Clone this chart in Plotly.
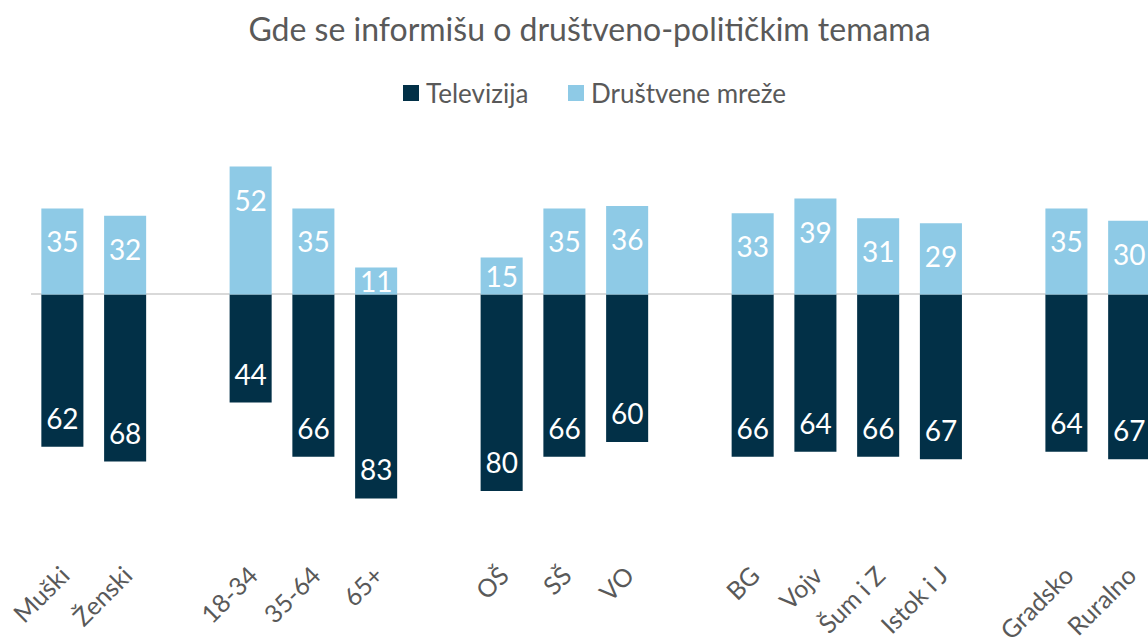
import plotly.graph_objects as go

# Survey groups and their categories
groups = [
    ["Muški", "Ženski"],
    ["18-34", "35-64", "65+"],
    ["OŠ", "SŠ", "VO"],
    ["BG", "Vojv", "Šum i Z", "Istok i J"],
    ["Gradsko", "Ruralno"],
]

# Shares (%) per category, in the same order as the groups above
televizija = [62, 68, 44, 66, 83, 80, 66, 60, 66, 64, 66, 67, 64, 67]
drustvene_mreze = [35, 32, 52, 35, 11, 15, 35, 36, 33, 39, 31, 29, 35, 30]

series_names = ["Televizija", "Društvene mreže"]

TV_COLOR = "#023047"
SM_COLOR = "#8ecae6"
TEXT_GREY = "#595959"
FONT = "Lato"

# Positions: one empty slot between groups
categories, xpos = [], []
slot = 0
for g in groups:
    for name in g:
        categories.append(name)
        xpos.append(slot)
        slot += 1
    slot += 1

# Plot geometry
W, H = 1148, 644
M_L, M_R, M_T, M_B = 31, 0, 142, 89
Y_RANGE = [-106, 62]
X_RANGE = [-0.5, 17.3]
PLOT_W = W - M_L - M_R
PLOT_H = H - M_T - M_B
px_per_unit = PLOT_H / (Y_RANGE[1] - Y_RANGE[0])
TEXT_NUDGE = 4 / px_per_unit  # text glyphs render slightly high


def label_pos(v):
    # labels sit a fixed distance inside the bar end, or mid-bar for short bars
    inset = (33 if v > 0 else 29) / px_per_unit
    off = min(inset, abs(v) / 2)
    pos = v - off if v > 0 else v + off
    return pos - TEXT_NUDGE


def px_to_paper(x_px, y_px):
    return (x_px - M_L) / PLOT_W, (H - M_B - y_px) / PLOT_H


tv_neg = [-v for v in televizija]

fig = go.Figure()
fig.add_trace(go.Bar(
    x=xpos, y=tv_neg, name=series_names[0], width=0.67,
    marker=dict(color=TV_COLOR, line=dict(width=0)),
    hoverinfo="skip", showlegend=False,
))
fig.add_trace(go.Bar(
    x=xpos, y=drustvene_mreze, name=series_names[1], width=0.67,
    marker=dict(color=SM_COLOR, line=dict(width=0)),
    hoverinfo="skip", showlegend=False,
))

# Value labels inside the bars
for vals, shown in ((tv_neg, televizija), (drustvene_mreze, drustvene_mreze)):
    fig.add_trace(go.Scatter(
        x=xpos, y=[label_pos(v) for v in vals], mode="text",
        text=[str(v) for v in shown], textposition="middle center",
        textfont=dict(family=FONT, size=28, color="white"),
        showlegend=False, hoverinfo="skip", cliponaxis=True,
    ))

# Legend: colour squares with series names, centred under the title
legend_items = [(403, TV_COLOR, series_names[0]), (568, SM_COLOR, series_names[1])]
shapes, annotations = [], []
for x_px, color, label in legend_items:
    x0, y0 = px_to_paper(x_px, 101)
    x1, y1 = px_to_paper(x_px + 16, 85)
    shapes.append(dict(type="rect", xref="paper", yref="paper",
                       x0=x0, x1=x1, y0=y0, y1=y1,
                       fillcolor=color, line=dict(width=0)))
    ax, ay = px_to_paper(x_px + 21, 93)
    annotations.append(dict(xref="paper", yref="paper", x=ax, y=ay,
                            xanchor="left", yanchor="middle", showarrow=False,
                            text=label,
                            font=dict(family=FONT, size=26, color=TEXT_GREY)))

fig.update_layout(
    width=W, height=H,
    margin=dict(l=M_L, r=M_R, t=M_T, b=M_B, autoexpand=False),
    barmode="relative",
    paper_bgcolor="white", plot_bgcolor="white",
    font=dict(family=FONT, color=TEXT_GREY),
    title=dict(
        text="Gde se informišu o društveno-političkim temama",
        x=0.5, xref="paper", xanchor="center",
        y=1 - 30 / H, yref="container", yanchor="middle",
        font=dict(family=FONT, size=32, color=TEXT_GREY),
    ),
    shapes=shapes,
    annotations=annotations,
    xaxis=dict(
        range=X_RANGE, tickmode="array", tickvals=xpos, ticktext=categories,
        tickangle=-45, tickfont=dict(family=FONT, size=25, color=TEXT_GREY),
        automargin=False,
        showgrid=False, zeroline=False, showline=False, ticks="",
    ),
    yaxis=dict(
        range=Y_RANGE, showgrid=False, showticklabels=False, ticks="",
        zeroline=True, zerolinecolor="#d9d9d9", zerolinewidth=2,
        showline=False, automargin=False,
    ),
    showlegend=False,
)

fig.write_html("out.html")
